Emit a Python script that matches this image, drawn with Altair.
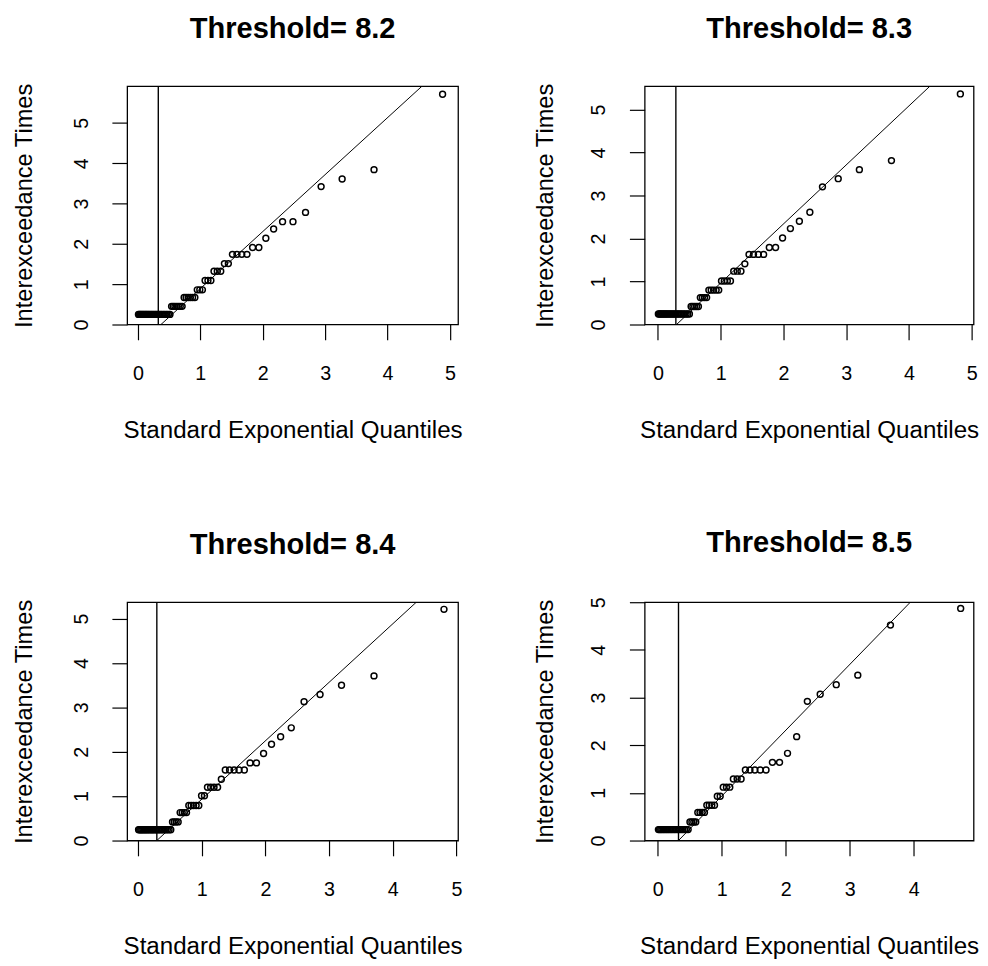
import altair as alt
import pandas as pd

FONT = "Liberation Sans"

titles = ["Threshold= 8.2", "Threshold= 8.3", "Threshold= 8.4", "Threshold= 8.5"]
x_title = "Standard Exponential Quantiles"
y_title = "Interexceedance Times"

# ---- panel 1 (threshold 8.2) ----
q1 = [0.008, 0.023, 0.039, 0.054, 0.071, 0.087, 0.104, 0.121, 0.138, 0.155,
      0.173, 0.191, 0.210, 0.229, 0.248, 0.268, 0.288, 0.308, 0.329, 0.350,
      0.372, 0.394, 0.417, 0.440, 0.464, 0.488, 0.513, 0.539, 0.565, 0.592,
      0.620, 0.649, 0.678, 0.708, 0.740, 0.772, 0.805, 0.840, 0.875, 0.912,
      0.951, 0.991, 1.033, 1.076, 1.122, 1.169, 1.219, 1.272, 1.327, 1.386,
      1.449, 1.515, 1.587, 1.664, 1.747, 1.838, 1.938, 2.050, 2.175, 2.318,
      2.485, 2.686, 2.936, 3.273, 3.784, 4.883]
t1 = [0.25, 0.25, 0.25, 0.25, 0.25, 0.25, 0.25, 0.25, 0.25, 0.25,
      0.25, 0.25, 0.25, 0.25, 0.25, 0.25, 0.25, 0.25, 0.25, 0.25,
      0.25, 0.25, 0.25, 0.25, 0.25, 0.25, 0.25, 0.45, 0.45, 0.45,
      0.45, 0.45, 0.45, 0.45, 0.67, 0.67, 0.67, 0.67, 0.67, 0.67,
      0.86, 0.86, 0.86, 1.09, 1.09, 1.09, 1.32, 1.32, 1.32, 1.51,
      1.51, 1.74, 1.74, 1.74, 1.74, 1.91, 1.91, 2.14, 2.37, 2.55,
      2.55, 2.78, 3.42, 3.61, 3.84, 5.71]

# ---- panel 2 (threshold 8.3) ----
q2 = [0.008, 0.024, 0.041, 0.058, 0.075, 0.093, 0.111, 0.129, 0.147, 0.166,
      0.186, 0.205, 0.225, 0.246, 0.266, 0.288, 0.310, 0.332, 0.354, 0.378,
      0.401, 0.426, 0.451, 0.476, 0.503, 0.530, 0.558, 0.586, 0.616, 0.646,
      0.677, 0.709, 0.743, 0.777, 0.813, 0.850, 0.888, 0.929, 0.970, 1.014,
      1.059, 1.107, 1.157, 1.209, 1.265, 1.324, 1.386, 1.453, 1.524, 1.601,
      1.685, 1.776, 1.876, 1.987, 2.112, 2.255, 2.422, 2.623, 2.874, 3.211,
      3.722, 4.820]
t2 = [0.244, 0.244, 0.244, 0.244, 0.244, 0.244, 0.244, 0.244, 0.244, 0.244,
      0.244, 0.244, 0.244, 0.244, 0.244, 0.244, 0.244, 0.244, 0.244, 0.244,
      0.244, 0.244, 0.244, 0.244, 0.244, 0.42, 0.42, 0.42, 0.42, 0.42,
      0.625, 0.625, 0.625, 0.625, 0.80, 0.80, 0.80, 0.80, 0.80, 1.01,
      1.01, 1.01, 1.01, 1.24, 1.24, 1.24, 1.41, 1.63, 1.63, 1.63,
      1.63, 1.79, 1.79, 2.01, 2.23, 2.40, 2.61, 3.20, 3.39, 3.60,
      3.81, 5.36]

# ---- panel 3 (threshold 8.4) ----
q3 = [0.008, 0.025, 0.042, 0.059, 0.077, 0.094, 0.113, 0.131, 0.150, 0.169,
      0.189, 0.209, 0.229, 0.250, 0.271, 0.293, 0.315, 0.338, 0.361, 0.385,
      0.410, 0.435, 0.460, 0.487, 0.514, 0.541, 0.570, 0.599, 0.630, 0.661,
      0.693, 0.727, 0.761, 0.797, 0.834, 0.872, 0.912, 0.954, 0.997, 1.043,
      1.090, 1.140, 1.193, 1.249, 1.308, 1.370, 1.437, 1.508, 1.585, 1.669,
      1.759, 1.859, 1.971, 2.096, 2.239, 2.406, 2.607, 2.858, 3.195, 3.705,
      4.804]
t3 = [0.244, 0.244, 0.244, 0.244, 0.244, 0.244, 0.244, 0.244, 0.244, 0.244,
      0.244, 0.244, 0.244, 0.244, 0.244, 0.244, 0.244, 0.244, 0.244, 0.244,
      0.244, 0.244, 0.244, 0.244, 0.244, 0.42, 0.42, 0.42, 0.42, 0.63,
      0.63, 0.63, 0.63, 0.79, 0.79, 0.79, 0.79, 0.79, 1.01, 1.01,
      1.20, 1.20, 1.20, 1.20, 1.38, 1.59, 1.59, 1.59, 1.59, 1.59,
      1.75, 1.75, 1.96, 2.17, 2.34, 2.54, 3.13, 3.29, 3.50, 3.71,
      5.21]

# ---- panel 4 (threshold 8.5) ----
q4 = [0.009, 0.027, 0.045, 0.063, 0.082, 0.101, 0.121, 0.141, 0.161, 0.182,
      0.204, 0.225, 0.248, 0.270, 0.294, 0.317, 0.342, 0.367, 0.392, 0.419,
      0.446, 0.474, 0.502, 0.532, 0.562, 0.593, 0.625, 0.659, 0.693, 0.729,
      0.766, 0.804, 0.844, 0.886, 0.930, 0.975, 1.023, 1.073, 1.125, 1.181,
      1.240, 1.302, 1.369, 1.440, 1.517, 1.601, 1.692, 1.792, 1.903, 2.028,
      2.171, 2.338, 2.539, 2.790, 3.127, 3.638, 4.736]
t4 = [0.23, 0.23, 0.23, 0.23, 0.23, 0.23, 0.23, 0.23, 0.23, 0.23,
      0.23, 0.23, 0.23, 0.23, 0.23, 0.23, 0.23, 0.23, 0.23, 0.23,
      0.23, 0.23, 0.39, 0.39, 0.39, 0.39, 0.59, 0.59, 0.59, 0.59,
      0.74, 0.74, 0.74, 0.74, 0.93, 0.93, 1.12, 1.12, 1.12, 1.29,
      1.29, 1.29, 1.48, 1.48, 1.48, 1.48, 1.48, 1.64, 1.64, 1.83,
      2.18, 2.92, 3.07, 3.27, 3.47, 4.52, 4.87]

quantiles = [q1, q2, q3, q4]
times = [t1, t2, t3, t4]

x_domains = [[-0.173, 5.131], [-0.210, 5.031], [-0.171, 5.025], [-0.206, 4.938]]
y_max = [5.91, 5.54, 5.37, 5.00]
vlines = [0.326, 0.287, 0.295, 0.323]
line_x = [[0.369, 4.553], [0.298, 4.335], [0.295, 4.369], [0.323, 3.948]]
line_y = [[0.0, 5.91], [0.0, 5.54], [0.0, 5.37], [0.0, 5.00]]
x_ticks = [0, 1, 2, 3, 4, 5]
y_ticks = [0, 1, 2, 3, 4, 5]
y_title_x = [-104.3, -100.8, -104.3, -100.8]


def panel(k):
    xs = alt.Scale(domain=x_domains[k], nice=False, zero=False)
    ys = alt.Scale(domain=[0, y_max[k]], nice=False, zero=False)
    xax = alt.Axis(title=x_title, values=x_ticks, format="d", grid=False,
                   domain=False, tickSize=15.5, tickWidth=1.2, tickColor="black",
                   labelFont=FONT, labelFontSize=20, labelColor="black",
                   labelPadding=40, labelBaseline="alphabetic",
                   labelFlush=False, labelOverlap=False, labelBound=False,
                   titleFont=FONT, titleFontSize=24.5, titleFontWeight="normal",
                   titleColor="black", titleBaseline="alphabetic",
                   titleY=114.5)
    yax = alt.Axis(title=y_title, values=y_ticks, format="d", grid=False,
                   domain=False, tickSize=15.5, tickWidth=1.2, tickColor="black",
                   labelFont=FONT, labelFontSize=20, labelColor="black",
                   labelAngle=270, labelAlign="center",
                   labelBaseline="middle", labelPadding=31,
                   labelFlush=False, labelOverlap=False, labelBound=False,
                   titleFont=FONT, titleFontSize=24, titleFontWeight="normal",
                   titleColor="black", titleBaseline="middle",
                   titleX=y_title_x[k])
    pts_df = pd.DataFrame({"q": quantiles[k], "t": times[k]})
    pts = alt.Chart(pts_df).mark_point(
        shape="circle", filled=False, size=36, strokeWidth=1.5,
        color="black", opacity=1, clip=True
    ).encode(x=alt.X("q:Q", scale=xs, axis=xax),
             y=alt.Y("t:Q", scale=ys, axis=yax))
    rule = alt.Chart(pd.DataFrame({"q": [vlines[k]]})).mark_rule(
        color="black", strokeWidth=1.4
    ).encode(x=alt.X("q:Q", scale=xs, axis=xax))
    diag = alt.Chart(pd.DataFrame({"q": line_x[k], "t": line_y[k]})).mark_line(
        color="black", strokeWidth=1, clip=True
    ).encode(x=alt.X("q:Q", scale=xs, axis=xax),
             y=alt.Y("t:Q", scale=ys, axis=yax))
    return alt.layer(pts, rule, diag).properties(
        width=336 if k % 2 == 0 else 334, height=242,
        title=alt.TitleParams(titles[k], font=FONT, fontSize=29.5,
                              fontWeight="bold", color="black",
                              anchor="middle", frame="group",
                              baseline="alphabetic", offset=15.7),
    )


chart = alt.concat(
    panel(0), panel(1), panel(2), panel(3),
    columns=2, spacing={"row": 282, "column": 189.5}, bounds="flush",
).properties(
    padding={"left": 4, "top": -2, "right": 0, "bottom": 0},
    background="white",
).configure_view(stroke="black", strokeWidth=1.3)

chart.save("out.html", embed_options={"renderer": "svg", "actions": False})
